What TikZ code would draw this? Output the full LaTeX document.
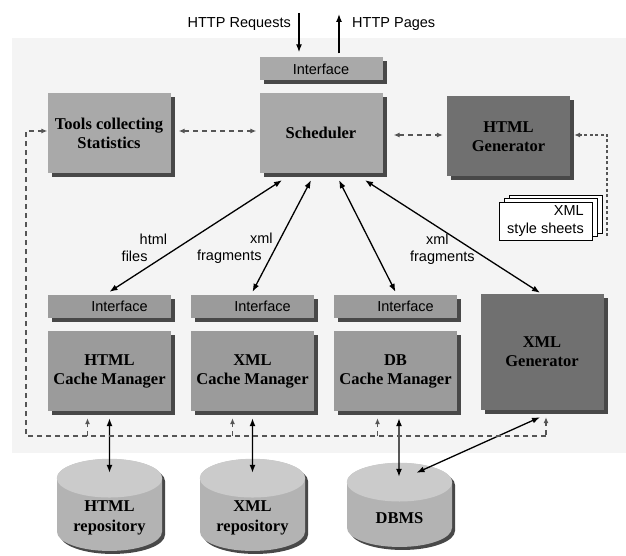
\documentclass[tikz,border=0pt]{standalone}
\usepackage{fontspec}
\setmainfont{Liberation Serif}
\setsansfont{Liberation Sans}
\usetikzlibrary{positioning, arrows.meta, shadows, shapes.geometric, calc}

\definecolor{panelbg}{HTML}{F4F4F4}
\definecolor{lightbox}{HTML}{A9A9A9}
\definecolor{midbox}{HTML}{9B9B9B}
\definecolor{darkbox}{HTML}{707070}
\definecolor{shadowgray}{HTML}{484848}
\definecolor{cylbody}{HTML}{B3B3B3}
\definecolor{cyltop}{HTML}{CBCBCB}
\definecolor{dashgray}{HTML}{555555}

\begin{document}
\begin{tikzpicture}[
    x=1pt, y=-1pt,
    >={Latex[length=8pt,width=6pt]},
    node distance=143pt,
    on grid,
    boxshadow/.style={
        drop shadow={shadow xshift=4pt, shadow yshift=-4pt, fill=shadowgray, opacity=1}
    },
    box/.style={
        boxshadow,
        fill=lightbox,
        minimum width=123pt,
        minimum height=80pt,
        align=center,
        font=\bfseries\fontsize{16.5}{19}\selectfont
    },
    cachebox/.style={box, fill=midbox},
    genbox/.style={box, fill=darkbox},
    iface/.style={
        boxshadow,
        fill=lightbox,
        minimum width=123pt,
        minimum height=23pt,
        inner sep=0pt,
        font=\sffamily\fontsize{14.5}{17}\selectfont
    },
    rowiface/.style={iface, fill=midbox, execute at begin node={\hspace*{20pt}}},
    sheet/.style={
        draw, fill=white, line width=0.8pt,
        minimum width=93pt, minimum height=38pt,
        align=right, inner sep=3pt,
        font=\sffamily\fontsize{14.5}{18}\selectfont
    },
    repo/.style={
        cylinder, shape border rotate=90, aspect=0.365,
        text width=98.4pt, inner sep=3.3pt,
        minimum width=105pt, minimum height=84pt,
        fill=cylbody,
        drop shadow={shadow xshift=3pt, shadow yshift=-3pt, fill=shadowgray, opacity=1},
        align=center,
        font=\bfseries\fontsize{16.5}{20}\selectfont
    },
    lbl/.style={align=left, inner sep=0pt, font=\sffamily\fontsize{14.5}{17}\selectfont},
    link/.style={<->, line width=1.3pt},
    statline/.style={
        draw=dashgray, line width=1.1pt, dash pattern=on 5pt off 4pt,
        >={Latex[length=6pt,width=5pt]}
    }
]

\useasboundingbox (0,0) rectangle (626,556);
\fill[panelbg] (12,38) rectangle (626,453);

% top row
\node[iface] (itop) at (321,69) {Interface};
\node[box] (sched) at (321,133) {Scheduler};
\node[box] (tools) at (109,133) {Tools collecting\\Statistics};
\node[genbox] (htmlgen) at (508.5,136.5) {HTML\\Generator};

% style sheets
\node[sheet] (sheet3) at (555.5,214) {};
\node[sheet] (sheet2) at (550.5,217.5) {};
\node[sheet] (sheets) at (545.5,221) {XML\\style sheets};

% cache managers
\node[rowiface] (ihtml) at (109.5,306.5) {Interface};
\node[rowiface, right=of ihtml] (ixml) {Interface};
\node[rowiface, right=of ixml] (idb) {Interface};
\node[cachebox, below=64.5pt of ihtml] (cmhtml) {HTML\\Cache Manager};
\node[cachebox, below=64.5pt of ixml] (cmxml) {XML\\Cache Manager};
\node[cachebox, below=64.5pt of idb] (cmdb) {DB\\Cache Manager};
\node[genbox, minimum height=116pt] (xmlgen) at (542,352) {XML\\Generator};

% repositories
\node[repo, below=147pt of cmhtml] (cylhtml) {HTML\\repository};
\node[repo, below=147pt of cmxml] (cylxml) {XML\\repository};
\node[repo, below=147pt of cmdb, xshift=4pt] (cyldb) {DBMS};
\foreach \cyl in {cylhtml, cylxml, cyldb}
    \fill[cyltop] let \p1=(\cyl.before top), \p2=(\cyl.after top), \p3=(\cyl.top) in
        ($(\p1)!0.5!(\p2)$) ellipse [x radius={0.5*veclen(\x2-\x1,\y2-\y1)},
        y radius={veclen(\x3-0.5*\x1-0.5*\x2,\y3-0.5*\y1-0.5*\y2)}];

% http
\coordinate (req) at (299,13);
\coordinate (pages) at (339,14);
\draw[->, line width=1.3pt] (req) -- ([xshift=-22pt,yshift=5pt]itop.north);
\draw[->, line width=1.3pt] ([xshift=18pt,yshift=4pt]itop.north) -- (pages);
\node[lbl, anchor=east] (reqtext) at (291,24) {HTTP Requests};
\node[lbl, anchor=west] (pagestext) at (352,24) {HTTP Pages};

% scheduler links
\draw[link] ([xshift=-39pt,yshift=-7pt]sched.south) --
    node[lbl, pos=0.61, anchor=east, xshift=-9pt] {\hspace*{18pt}html\\files}
    ([yshift=3pt]ihtml.north);
\draw[link] ([xshift=-10pt,yshift=-7pt]sched.south) --
    node[lbl, pos=0.61, anchor=east, xshift=-2pt] {\hspace*{53pt}xml\\fragments}
    ([yshift=3pt]ixml.north);
\draw[link] ([xshift=18pt,yshift=-7pt]sched.south) -- ([yshift=3pt]idb.north);
\draw[link] ([xshift=44pt,yshift=-7pt]sched.south) --
    node[lbl, pos=0.61, anchor=east, xshift=3.5pt] {\hspace*{16pt}xml\\fragments}
    ([xshift=-2pt,yshift=1pt]xmlgen.north);

% storage links
\draw[link] ([yshift=-7pt]cmhtml.south) -- ([yshift=-14pt]cylhtml.north);
\draw[link] ([yshift=-7pt]cmxml.south) -- ([yshift=-14pt]cylxml.north);
\draw[link] ([xshift=3.5pt,yshift=-7pt]cmdb.south) -- ([xshift=-0.5pt,yshift=-14pt]cyldb.north);
\draw[link] ([xshift=-2pt,yshift=-7pt]xmlgen.south) -- ([xshift=17pt,yshift=-10pt]cyldb.north);

% statistics
\coordinate (busL) at (26,436);
\coordinate (busR) at (546,436);
\draw[statline,->] (busR) -- (busL) |- ([yshift=2pt]tools.west);
\foreach \cm/\dx in {cmhtml/-22, cmxml/-20, cmdb/-18, xmlgen/4}
    \draw[statline,->] ($(\cm.south)+(\dx,25)$) -- ($(\cm.south)+(\dx,7)$);
\draw[statline,<->] ([xshift=8pt,yshift=2pt]tools.east) -- ([xshift=-3pt,yshift=2pt]sched.west);
\draw[statline,<->] ([xshift=11pt,yshift=-2pt]sched.east) -- ([xshift=-4pt,yshift=1.5pt]htmlgen.west);
\coordinate (sheetsfoot) at (607,236);
\draw[statline, dash pattern=on 3pt off 2.5pt, ->] (sheetsfoot) |- ([xshift=4pt,yshift=1.5pt]htmlgen.east);
\end{tikzpicture}
\end{document}
